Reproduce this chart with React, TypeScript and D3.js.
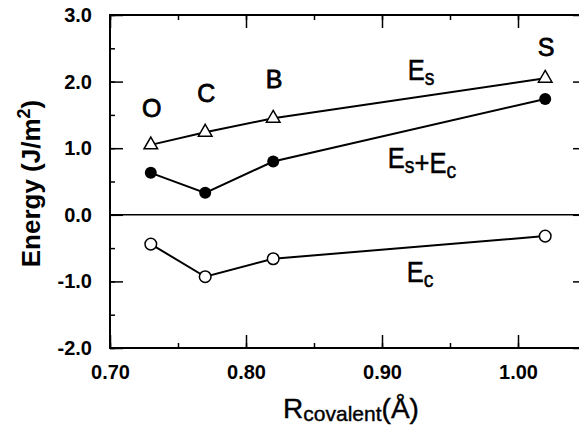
// @ts-nocheck
import React, { useEffect, useRef } from 'react';
import * as d3 from 'd3';

// data
const radii = [0.73, 0.77, 0.82, 1.02];
const elements = ['O', 'C', 'B', 'S'];
const esValues = [1.05, 1.24, 1.45, 2.05];
const esEcValues = [0.63, 0.33, 0.80, 1.74];
const ecValues = [-0.44, -0.93, -0.66, -0.32];
const xTicks = [0.7, 0.8, 0.9, 1.0];
const yTicks = [-2, -1, 0, 1, 2, 3];

const App = () => {
  const ref = useRef(null);

  useEffect(() => {
    const svg = d3.select(ref.current);
    svg.selectAll('*').remove();

    const width = 579, height = 430;
    const margin = { top: 15, right: -7, bottom: 82, left: 110 };

    const x = d3.scaleLinear().domain([0.7, 1.05]).range([margin.left, width - margin.right]);
    const y = d3.scaleLinear().domain([-2, 3]).range([height - margin.bottom, margin.top]);
    const font = 'Liberation Sans, Arial, Helvetica, sans-serif';

    const g = svg.append('g');

    // frame
    g.append('rect')
      .attr('x', x(0.7)).attr('y', y(3))
      .attr('width', x(1.05) - x(0.7)).attr('height', y(-2) - y(3))
      .attr('fill', 'none').attr('stroke', '#000').attr('stroke-width', 2);

    // zero line
    g.append('line')
      .attr('x1', x(0.7)).attr('x2', x(1.05))
      .attr('y1', y(0)).attr('y2', y(0))
      .attr('stroke', '#000').attr('stroke-width', 1.5);

    // axes, ticks pointing inward
    const minorX = d3.range(0.7, 1.051, 0.05);
    const minorY = d3.range(-2, 3.01, 0.5);
    const fmt = d => d.toFixed(1);

    const bottom = g.append('g').attr('transform', `translate(0,${y(-2)})`)
      .call(d3.axisBottom(x).tickValues(xTicks).tickFormat(d => d.toFixed(2)).tickSizeInner(-13).tickSizeOuter(0).tickPadding(17));
    g.append('g').attr('transform', `translate(0,${y(-2)})`)
      .call(d3.axisBottom(x).tickValues(minorX).tickFormat('').tickSizeInner(-5).tickSizeOuter(0));
    g.append('g').attr('transform', `translate(0,${y(3)})`)
      .call(d3.axisTop(x).tickValues(xTicks).tickFormat('').tickSizeInner(-13).tickSizeOuter(0));
    g.append('g').attr('transform', `translate(0,${y(3)})`)
      .call(d3.axisTop(x).tickValues(minorX).tickFormat('').tickSizeInner(-5).tickSizeOuter(0));

    const left = g.append('g').attr('transform', `translate(${x(0.7)},0)`)
      .call(d3.axisLeft(y).tickValues(yTicks).tickFormat(fmt).tickSizeInner(-13).tickSizeOuter(0).tickPadding(18));
    g.append('g').attr('transform', `translate(${x(0.7)},0)`)
      .call(d3.axisLeft(y).tickValues(minorY).tickFormat('').tickSizeInner(-5).tickSizeOuter(0));
    g.append('g').attr('transform', `translate(${x(1.05)},0)`)
      .call(d3.axisRight(y).tickValues(yTicks).tickFormat('').tickSizeInner(-13).tickSizeOuter(0));

    g.selectAll('.domain').attr('stroke', 'none');
    g.selectAll('.tick line').attr('stroke', '#000').attr('stroke-width', 1.5);
    [bottom, left].forEach(a => a.selectAll('text')
      .attr('font-family', font).attr('font-size', 20).attr('font-weight', 'bold').attr('fill', '#000'));

    const line = d3.line().x(d => x(d[0])).y(d => y(d[1]));
    const series = [esValues, esEcValues, ecValues];
    series.forEach(vals => {
      g.append('path')
        .datum(radii.map((r, i) => [r, vals[i]]))
        .attr('d', line)
        .attr('fill', 'none').attr('stroke', '#000').attr('stroke-width', 2);
    });

    // triangles (E_s)
    g.selectAll('.tri').data(radii).join('path')
      .attr('transform', (d, i) => `translate(${x(d)},${y(esValues[i])})`)
      .attr('d', d3.symbol(d3.symbolTriangle, 80))
      .attr('fill', '#fff').attr('stroke', '#000').attr('stroke-width', 1.5);

    // filled circles (E_s + E_c)
    g.selectAll('.dot').data(radii).join('circle')
      .attr('cx', d => x(d)).attr('cy', (d, i) => y(esEcValues[i]))
      .attr('r', 6).attr('fill', '#000');

    // open circles (E_c)
    g.selectAll('.ring').data(radii).join('circle')
      .attr('cx', d => x(d)).attr('cy', (d, i) => y(ecValues[i]))
      .attr('r', 5.8).attr('fill', '#fff').attr('stroke', '#000').attr('stroke-width', 1.5);

    // element labels above the E_s points
    const labelGap = [28, 30, 30, 22];
    g.selectAll('.el').data(radii).join('text')
      .attr('x', d => x(d) + 1).attr('y', (d, i) => y(esValues[i]) - labelGap[i])
      .attr('text-anchor', 'middle')
      .attr('font-family', font).attr('font-size', 25).attr('fill', '#000')
      .attr('stroke', '#000').attr('stroke-width', 0.8)
      .text((d, i) => elements[i]);

    // series labels
    const subLabel = (tx, ty, parts) => {
      const t = g.append('text').attr('x', tx).attr('y', ty)
        .attr('font-family', font).attr('font-size', 29).attr('fill', '#000')
        .attr('stroke', '#000').attr('stroke-width', 0.5)
        .attr('text-anchor', 'middle').attr('transform', `translate(${tx},0) scale(0.88,1) translate(${-tx},0)`);
      parts.forEach(([s, sub]) => {
        t.append('tspan').attr('font-size', sub ? 22 : 29).attr('dy', sub ? 5 : 0).text(s);
        if (sub) t.append('tspan').attr('dy', -5).text('');
      });
    };
    subLabel(421, 80, [['E', false], ['s', true]]);
    subLabel(422, 168, [['E', false], ['s', true], ['+E', false], ['c', true]]);
    subLabel(420, 282, [['E', false], ['c', true]]);

    // y-axis title
    const yt = g.append('text')
      .attr('transform', `translate(40,${y(0.47)}) rotate(-90)`)
      .attr('text-anchor', 'middle')
      .attr('font-family', font).attr('font-size', 26).attr('font-weight', 'bold').attr('fill', '#000');
    yt.append('tspan').text('Energy (J/m');
    yt.append('tspan').attr('font-size', 18).attr('dy', -10).text('2');
    yt.append('tspan').attr('dy', 10).text(')');

    // x-axis title
    const xt = g.append('text')
      .attr('x', 351).attr('y', 418)
      .attr('text-anchor', 'middle')
      .attr('font-family', font).attr('font-size', 28).attr('fill', '#000')
      .attr('stroke', '#000').attr('stroke-width', 0.4);
    xt.append('tspan').text('R');
    xt.append('tspan').attr('font-size', 21).attr('dy', 3).text('covalent');
    xt.append('tspan').attr('dy', -3).text('(Å)');
  }, []);

  return (
    <svg ref={ref} width={579} height={430}
      style={{ position: 'absolute', left: 0, top: 0, background: '#fff' }} />
  );
};

export default App;
